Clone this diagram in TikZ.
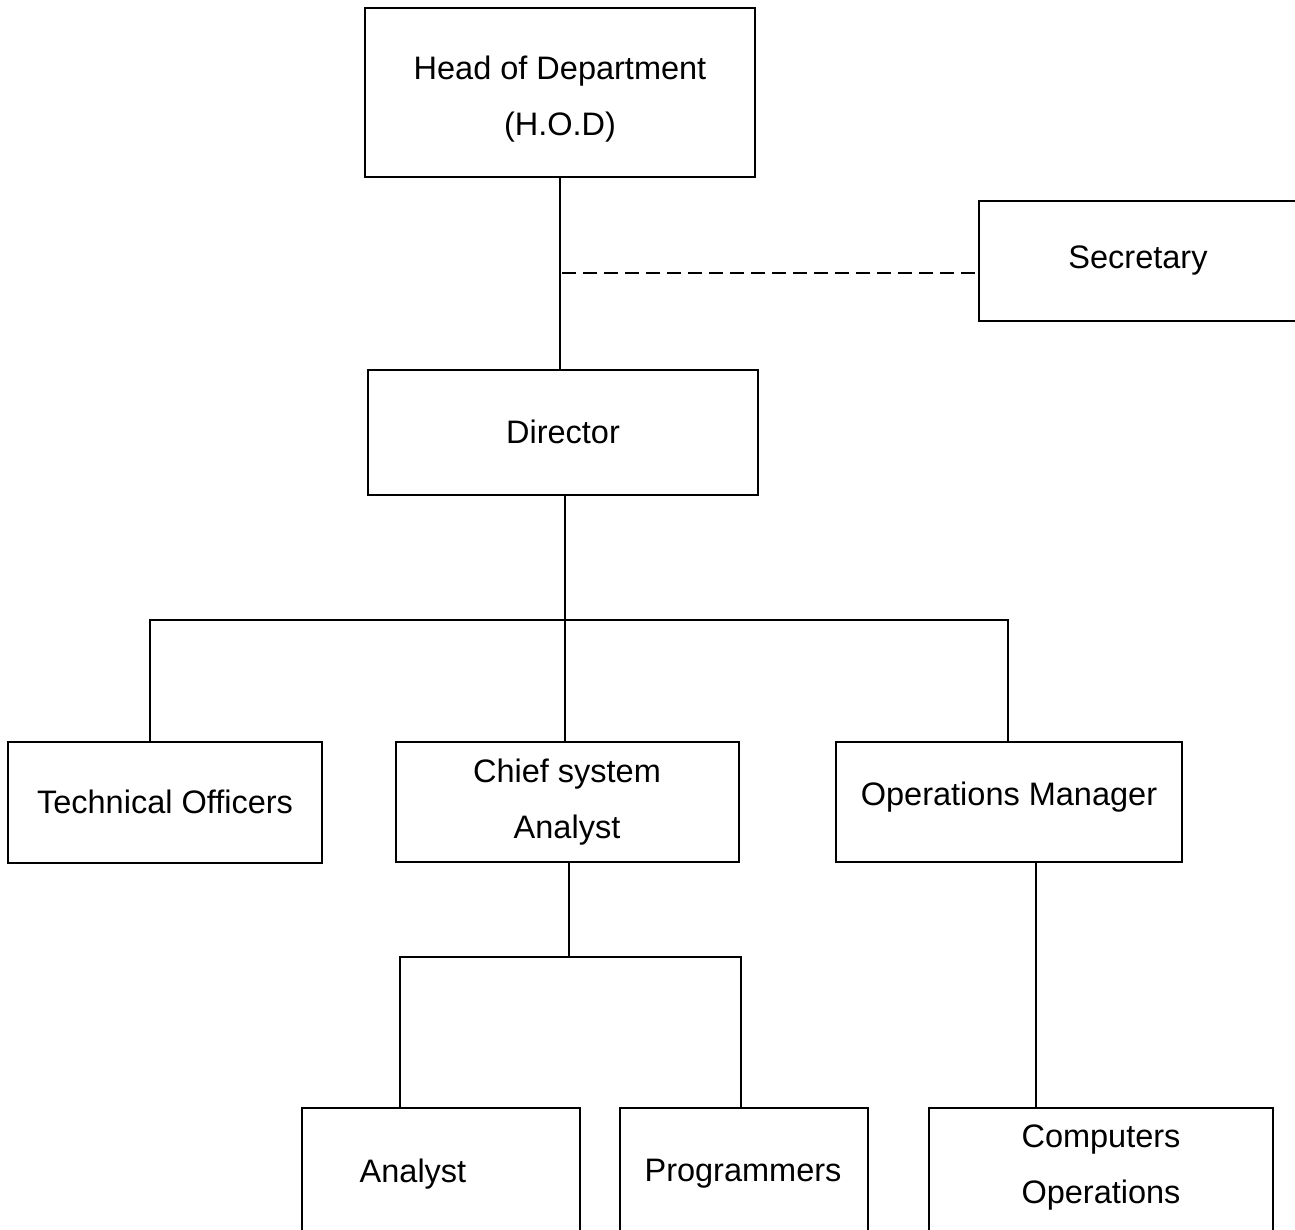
\documentclass[tikz,border=0pt]{standalone}
\usepackage{fontspec}
\setmainfont{Liberation Sans}
\begin{document}
\begin{tikzpicture}[x=1pt,y=-1pt,
  box/.style={draw,line width=1.3pt,rectangle,inner sep=0pt},
  lbl/.style={align=center,inner sep=0pt,font=\fontsize{32.5}{56}\selectfont},
  conn/.style={line width=1.3pt},
  dconn/.style={line width=1.1pt,dash pattern=on 14pt off 7pt}]
\useasboundingbox (0,0) rectangle (1295,1229);
\clip (0,0) rectangle (1295,1229);
\fill[white] (0,0) rectangle (1295,1229);
% boxes
\node[box,minimum width=390pt,minimum height=169pt] (hod) at (560,92.5) {};
\node[box,minimum width=321pt,minimum height=120pt] (sec) at (1139.5,261) {};
\node[box,minimum width=390pt,minimum height=125pt] (dir) at (563,432.5) {};
\node[box,minimum width=314pt,minimum height=121pt] (tech) at (165,802.5) {};
\node[box,minimum width=343pt,minimum height=120pt] (chief) at (567.5,802) {};
\node[box,minimum width=346pt,minimum height=120pt] (ops) at (1009,802) {};
\node[box,minimum width=278pt,minimum height=132pt] (ana) at (441,1174) {};
\node[box,minimum width=248pt,minimum height=132pt] (prog) at (744,1174) {};
\node[box,minimum width=344pt,minimum height=132pt] (comp) at (1101,1174) {};
% labels
\node[lbl] (thod) at (560,99) {Head of Department\\(H.O.D)};
\node[lbl] (tsec) at (1138,261) {Secretary};
\node[lbl] (tdir) at (563,432) {Director};
\node[lbl] (ttech) at (165,802) {Technical Officers};
\node[lbl] (tchief) at (567,802) {Chief system\\Analyst};
\node[lbl] (tops) at (1009,797) {Operations Manager};
\node[lbl] (tana) at (413,1174) {Analyst};
\node[lbl] (tprog) at (743,1174) {Programmers};
\node[lbl] (tcomp) at (1101,1168) {Computers\\Operations};
% connectors
\draw[conn] (hod.south) -- (hod.south |- dir.north);
\coordinate (dsh) at (562,273);
\draw[dconn] (dsh) -- (dsh -| sec.west);
\coordinate (j1) at (565,620);
\coordinate (tl) at (150,620);
\coordinate (tr) at (1008,620);
\draw[conn] (j1 |- dir.south) -- (j1);
\draw[conn] (tl |- tech.north) -- (tl) -- (tr) -- (tr |- ops.north);
\draw[conn] (j1) -- (j1 |- chief.north);
\coordinate (j2) at (569,957);
\coordinate (bl) at (400,957);
\coordinate (br) at (741,957);
\draw[conn] (j2 |- chief.south) -- (j2);
\draw[conn] (bl |- ana.north) -- (bl) -- (br) -- (br |- prog.north);
\coordinate (j3) at (1036,862);
\draw[conn] (j3 |- ops.south) -- (j3 |- comp.north);
\end{tikzpicture}
\end{document}
